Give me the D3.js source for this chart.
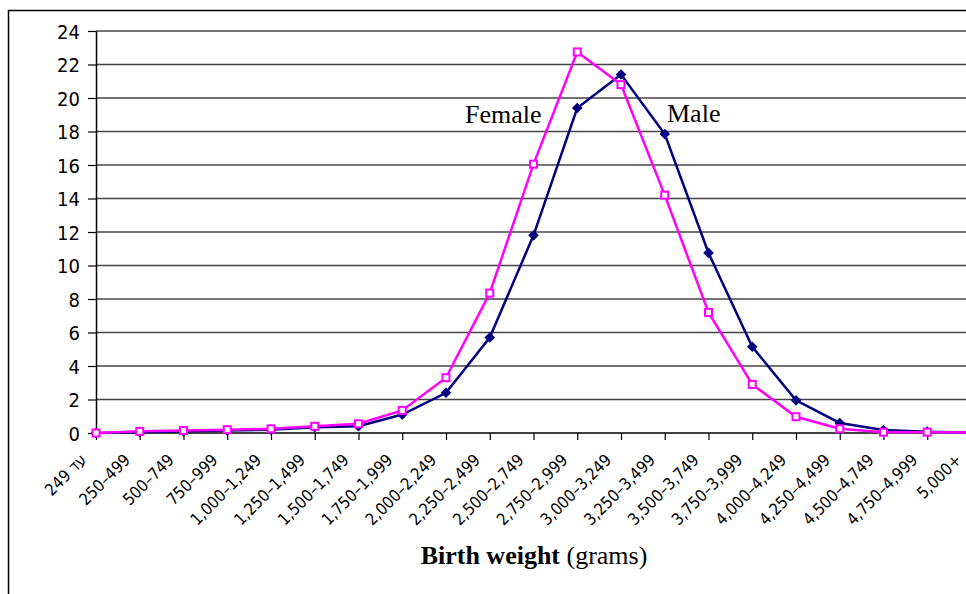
<!DOCTYPE html>
<html>
<head>
<meta charset="utf-8">
<script src="https://cdn.jsdelivr.net/npm/d3@7"></script>
<style>
  body { margin: 0; background: #fff; }
  svg { display: block; }
</style>
</head>
<body>
<div class="chart"></div>
<script>
// Data
const categories = ['249 עד', '250–499', '500–749', '750–999', '1,000–1,249', '1,250–1,499',
    '1,500–1,749', '1,750–1,999', '2,000–2,249', '2,250–2,499', '2,500–2,749', '2,750–2,999',
    '3,000–3,249', '3,250–3,499', '3,500–3,749', '3,750–3,999', '4,000–4,249', '4,250–4,499',
    '4,500–4,749', '4,750–4,999', '5,000+'];
const maleValues = [0, 0.05, 0.1, 0.15, 0.2, 0.35, 0.4, 1.1, 2.4, 5.7, 11.8, 19.4, 21.4, 17.85,
    10.75, 5.15, 1.95, 0.6, 0.18, 0.08, 0.03];
const femaleValues = [0, 0.1, 0.15, 0.2, 0.25, 0.4, 0.55, 1.35, 3.3, 8.35, 16.05, 22.75, 20.8, 14.2,
    7.2, 2.9, 0.97, 0.25, 0.05, 0.05, 0.02];
const yTicks = [0, 2, 4, 6, 8, 10, 12, 14, 16, 18, 20, 22, 24];

// Parameters
const width = 966;
const height = 594;
const margin = { top: 31, left: 96, bottom: 433 };
const step = 43.75;

const svg = d3.select('.chart')
    .append('svg')
    .attr('width', width)
    .attr('height', height);

svg.append('rect').attr('width', width).attr('height', height).attr('fill', '#fff');

// outer frame (cropped on right and bottom)
svg.append('path')
    .attr('d', `M8.5,${height} V10.5 H${width}`)
    .attr('fill', 'none')
    .attr('stroke', '#000')
    .attr('stroke-width', 1.5);

const x = d3.scalePoint()
    .domain(categories)
    .range([margin.left, margin.left + step * (categories.length - 1)]);

const y = d3.scaleLinear()
    .domain([0, 24])
    .range([margin.bottom, margin.top]);

// grid lines
svg.append('g')
    .selectAll('line')
    .data(yTicks.filter(d => d > 0))
    .join('line')
    .attr('x1', margin.left)
    .attr('x2', width)
    .attr('y1', d => y(d))
    .attr('y2', d => y(d))
    .attr('stroke', '#444')
    .attr('stroke-width', 1.5);

// y axis
const yAxis = svg.append('g')
    .attr('transform', `translate(${margin.left},0)`)
    .call(d3.axisLeft(y).tickValues(yTicks).tickSize(8).tickPadding(8).tickSizeOuter(0));
yAxis.select('.domain').attr('stroke', '#000').attr('stroke-width', 1.5);
yAxis.selectAll('.tick line').attr('stroke', '#000').attr('stroke-width', 1.2);
yAxis.selectAll('text')
    .attr('fill', '#000')
    .attr('dy', '0.36em')
    .style('font', '20px "DejaVu Sans Condensed", "DejaVu Sans", sans-serif');

// x axis
const xAxis = svg.append('g')
    .attr('transform', `translate(0,${margin.bottom})`)
    .call(d3.axisBottom(x).tickSize(7).tickSizeOuter(0));
xAxis.select('.domain').remove();
xAxis.append('line')
    .attr('x1', margin.left).attr('x2', width)
    .attr('stroke', '#000').attr('stroke-width', 1.5);
xAxis.selectAll('.tick line').attr('stroke', '#000').attr('stroke-width', 1.2);
xAxis.selectAll('text')
    .attr('fill', '#000')
    .attr('text-anchor', 'end')
    .attr('direction', 'ltr')
    .attr('y', 0)
    .attr('dy', 0)
    .attr('transform', 'translate(-9,28) rotate(-45)')
    .style('font', '16.5px "DejaVu Sans Condensed", "DejaVu Sans", sans-serif');

// lines
const line = d3.line()
    .x((d, i) => x(categories[i]))
    .y(d => y(d));

svg.append('path')
    .datum(maleValues)
    .attr('d', line)
    .attr('fill', 'none')
    .attr('stroke', '#000080')
    .attr('stroke-width', 2.5);

svg.append('g')
    .selectAll('path')
    .data(maleValues)
    .join('path')
    .attr('d', d3.symbol(d3.symbolDiamond2, 72))
    .attr('transform', (d, i) => `translate(${x(categories[i])},${y(d)})`)
    .attr('fill', '#000080');

svg.append('path')
    .datum(femaleValues)
    .attr('d', line)
    .attr('fill', 'none')
    .attr('stroke', '#ff00ff')
    .attr('stroke-width', 2.5);

svg.append('g')
    .selectAll('rect')
    .data(femaleValues)
    .join('rect')
    .attr('x', (d, i) => x(categories[i]) - 3.5)
    .attr('y', d => y(d) - 3.5)
    .attr('width', 7)
    .attr('height', 7)
    .attr('fill', '#fff')
    .attr('stroke', '#ff00ff')
    .attr('stroke-width', 2);

// series labels
svg.append('text')
    .attr('x', 465).attr('y', 123)
    .style('font', '26px "Liberation Serif", serif')
    .text('Female');
svg.append('text')
    .attr('x', 667).attr('y', 122)
    .style('font', '26px "Liberation Serif", serif')
    .text('Male');

// axis title
const title = svg.append('text')
    .attr('x', 534).attr('y', 564)
    .attr('text-anchor', 'middle')
    .style('font', '26px "Liberation Serif", serif');
title.append('tspan').attr('font-weight', 'bold').text('Birth weight');
title.append('tspan').text(' (grams)');
</script>
</body>
</html>
